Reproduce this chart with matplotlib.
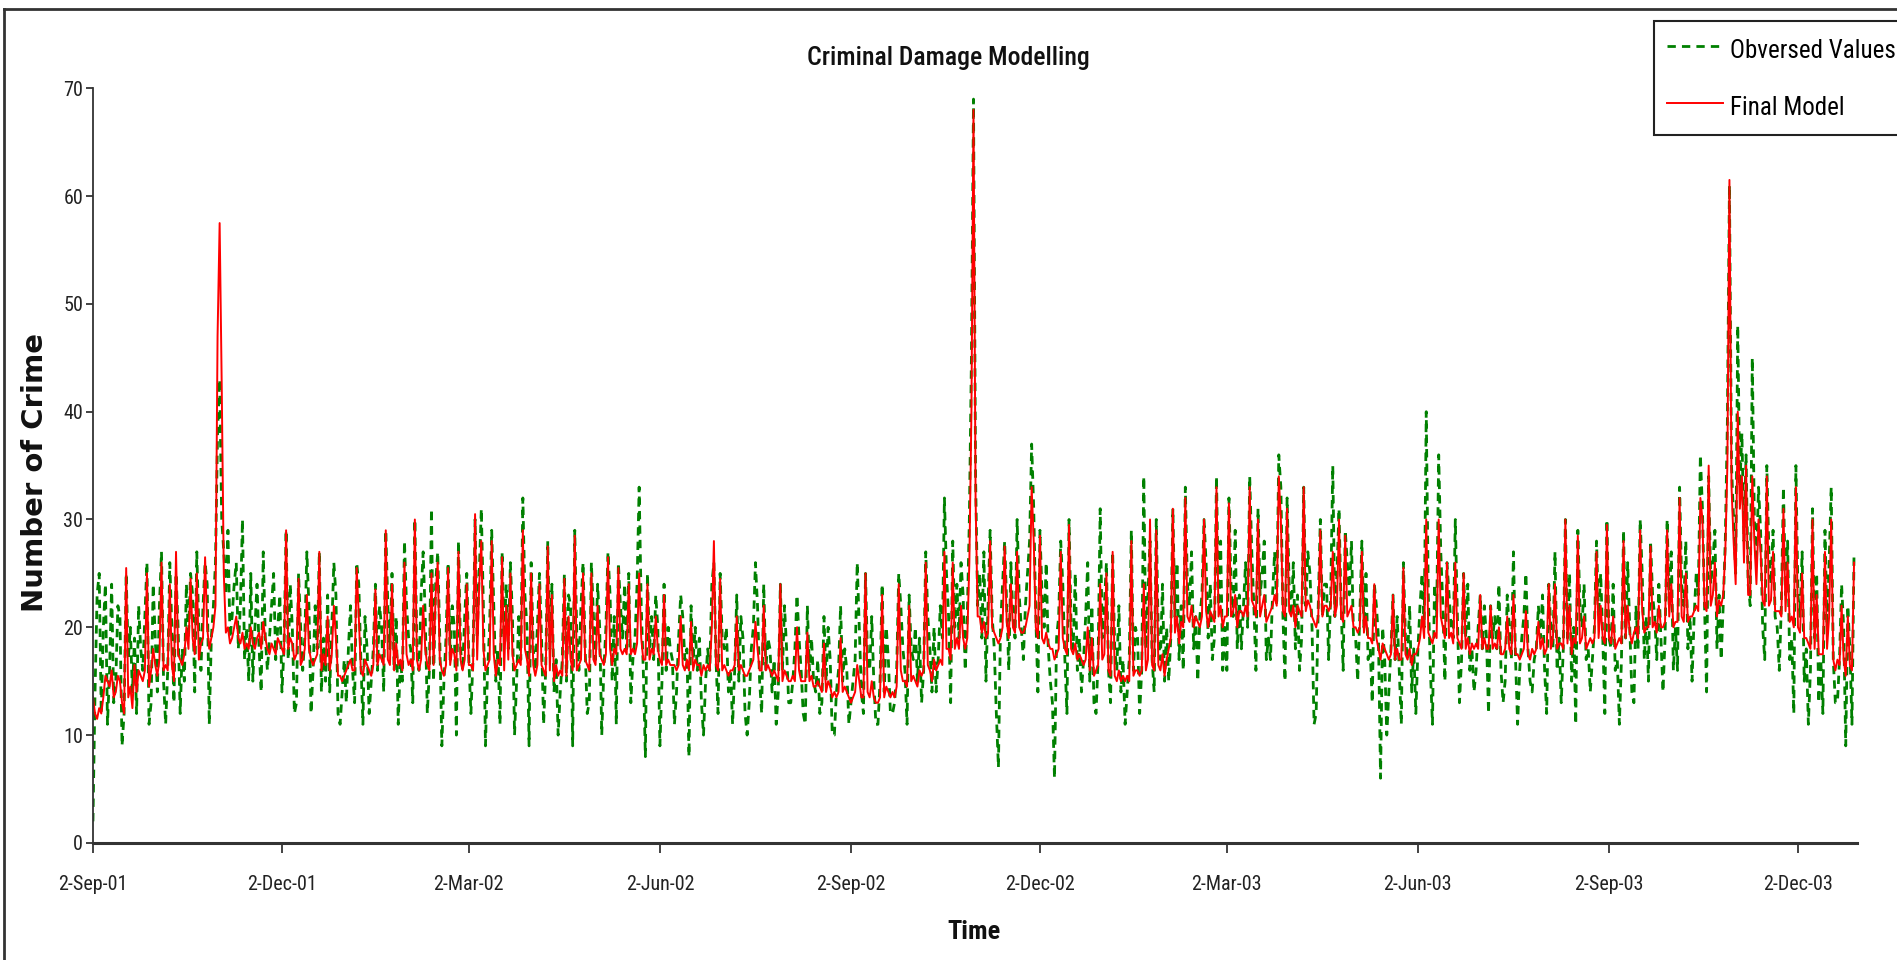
import pandas as pd
import matplotlib
matplotlib.use("Agg")
import matplotlib.pyplot as plt
from matplotlib.lines import Line2D
from matplotlib import font_manager

# Daily counts, one row per week, starting Sunday 2-Sep-01
observed_a = [
    2, 14, 23, 25, 12, 20, 24,
    11, 16, 24, 13, 15, 22, 21,
    9, 12, 25, 17, 20, 14, 19,
    12, 22, 18, 16, 21, 26, 11,
    13, 24, 19, 14, 22, 27, 15,
    11, 16, 26, 20, 13, 25, 20,
    12, 18, 15, 24, 19, 25, 23,
    14, 27, 20, 16, 22, 26, 24,
    11, 19, 22, 26, 38, 43, 30,
    27, 23, 29, 19, 21, 24, 26,
    18, 22, 30, 17, 20, 15, 25,
    15, 20, 24, 18, 14, 27, 19,
    16, 19, 22, 25, 17, 20, 23,
    14, 18, 29, 17, 24, 20, 12,
    13, 25, 20, 16, 19, 27, 22,
    12, 16, 22, 18, 27, 14, 19,
    15, 23, 14, 20, 26, 23, 12,
    11, 14, 17, 13, 18, 22, 16,
    13, 26, 24, 17, 11, 21, 18,
    12, 15, 18, 24, 16, 22, 20,
    14, 29, 22, 18, 25, 16, 21,
    11, 17, 15, 28, 22, 19, 18,
    13, 30, 18, 16, 23, 27, 21,
    12, 16, 31, 15, 24, 27, 19,
    9, 15, 19, 26, 17, 22, 20,
    10, 28, 18, 16, 21, 25, 17,
    12, 17, 30, 19, 25, 31, 22,
    9, 16, 20, 29, 22, 15, 18,
    11, 27, 19, 24, 18, 26, 21,
    10, 15, 21, 17, 32, 23, 20,
    9, 26, 18, 16, 20, 25, 19,
    11, 16, 28, 18, 24, 14, 17,
    10, 14, 17, 25, 15, 23, 22,
    9, 29, 19, 16, 22, 26, 18,
    12, 13, 26, 21, 17, 24, 20,
    10, 16, 20, 27, 23, 15, 21,
    11, 26, 22, 19, 24, 18, 25,
    13, 17, 19, 24, 33, 22, 16,
    8, 25, 18, 21, 17, 23, 20,
    9, 15, 24, 16, 20, 18, 17,
    11, 14, 19, 23, 21, 17, 18,
]
observed_b = [
    8, 22, 17, 20, 16, 19, 13,
    10, 15, 18, 16, 24, 26, 17,
    12, 25, 19, 18, 20, 14, 16,
    11, 16, 23, 15, 21, 19, 12,
    10, 13, 18, 20, 26, 22, 15,
    12, 24, 16, 19, 18, 14, 17,
    11, 14, 24, 16, 22, 18, 13,
    13, 15, 18, 23, 19, 16, 12,
    11, 22, 16, 19, 15, 14, 17,
    12, 13, 21, 15, 20, 17, 10,
    10, 14, 16, 22, 15, 18, 16,
    11, 13, 15, 17, 26, 20, 14,
    12, 25, 17, 16, 21, 15, 11,
    11, 15, 24, 14, 20, 17, 12,
    12, 13, 16, 25, 22, 18, 16,
    11, 23, 18, 17, 20, 15, 19,
    13, 16, 27, 21, 18, 14, 20,
    14, 17, 22, 19, 32, 25, 21,
    13, 28, 20, 24, 19, 26, 23,
    16, 21, 30, 45, 69, 34, 22,
    25, 19, 27, 15, 22, 29, 21,
    18, 12, 7, 20, 24, 28, 22,
    16, 26, 21, 19, 30, 23, 20,
    17, 22, 25, 28, 37, 31, 21,
    14, 29, 23, 20, 26, 18, 15,
    13, 6, 19, 21, 28, 24, 17,
    12, 30, 20, 18, 25, 16, 19,
    14, 17, 21, 26, 15, 22, 13,
    12, 17, 31, 19, 22, 26, 16,
    13, 27, 18, 16, 22, 14, 17,
    11, 14, 17, 29, 16, 20, 19,
    12, 16, 34, 18, 23, 28, 17,
    14, 30, 19, 17, 24, 15, 20,
    15, 19, 31, 21, 26, 17, 22,
    16, 33, 24, 22, 27, 18, 21,
    15, 21, 23, 30, 26, 19, 24,
    17, 19, 34, 22, 28, 16, 20,
    16, 32, 24, 21, 29, 18, 23,
    18, 22, 26, 20, 34, 27, 22,
    16, 31, 23, 25, 28, 17, 19,
]
observed_c = [
    17, 23, 27, 22, 36, 33, 21,
    15, 32, 24, 21, 26, 18, 23,
    16, 19, 33, 22, 27, 25, 20,
    11, 12, 22, 30, 21, 24, 24,
    17, 23, 35, 21, 25, 31, 22,
    16, 29, 26, 23, 28, 19, 19,
    15, 21, 28, 20, 25, 17, 18,
    13, 24, 22, 19, 6, 20, 17,
    10, 14, 18, 23, 17, 21, 16,
    11, 26, 19, 17, 22, 14, 18,
    12, 18, 22, 25, 20, 40, 23,
    16, 11, 24, 21, 36, 27, 22,
    15, 26, 23, 20, 19, 30, 21,
    13, 17, 25, 19, 24, 16, 18,
    14, 16, 20, 23, 18, 22, 19,
    12, 22, 19, 21, 18, 24, 16,
    13, 15, 23, 20, 17, 27, 17,
    11, 16, 19, 21, 25, 18, 15,
    14, 17, 18, 22, 19, 23, 16,
    12, 24, 20, 18, 27, 16, 19,
    13, 18, 30, 19, 25, 15, 20,
    11, 29, 22, 20, 24, 17, 18,
    14, 17, 20, 28, 21, 25, 19,
    12, 30, 19, 18, 24, 16, 17,
    11, 17, 29, 19, 26, 20, 14,
    13, 22, 18, 30, 25, 17, 21,
    15, 28, 23, 21, 17, 24, 19,
    14, 19, 30, 22, 27, 16, 20,
    16, 33, 24, 22, 28, 18, 21,
    15, 21, 25, 23, 36, 31, 22,
    14, 34, 24, 26, 29, 18, 23,
    17, 22, 28, 39, 61, 35, 30,
    25, 48, 33, 38, 28, 36, 24,
    22, 45, 30, 26, 33, 29, 20,
    17, 35, 27, 24, 29, 21, 20,
    16, 22, 33, 23, 28, 17, 19,
    12, 35, 23, 21, 27, 15, 18,
    11, 16, 31, 19, 25, 13, 17,
    12, 29, 20, 26, 33, 17, 13,
    13, 17, 24, 20, 9, 22, 18,
    11, 27,
]

model_a = [
    13.5, 12.0, 11.5, 12.5, 12.0, 13.5, 15.5,
    15.0, 14.5, 16.0, 13.5, 14.0, 15.5, 15.0,
    13.0, 12.0, 25.5, 13.5, 14.5, 12.5, 16.5,
    14.0, 16.0, 15.5, 15.0, 16.0, 25.0, 14.5,
    16.0, 18.0, 16.5, 15.5, 17.0, 26.0, 16.0,
    16.5, 16.0, 24.0, 16.5, 15.0, 27.0, 17.5,
    17.0, 16.5, 17.5, 20.0, 18.0, 24.5, 19.0,
    17.5, 25.0, 17.0, 18.5, 19.0, 26.5, 20.0,
    18.0, 19.0, 20.0, 22.0, 47.0, 57.5, 42.5,
    25.0, 19.5, 20.0, 18.5, 19.0, 20.0, 21.0,
    19.0, 18.5, 19.5, 18.0, 18.5, 18.0, 20.0,
    18.5, 18.0, 19.0, 19.5, 18.0, 20.5, 19.0,
    18.0, 17.5, 18.5, 18.0, 17.5, 19.0, 18.5,
    18.0, 17.5, 29.0, 18.0, 19.0, 18.5, 17.0,
    17.5, 24.5, 16.5, 17.0, 18.0, 23.0, 18.0,
    17.0, 16.5, 17.0, 17.5, 27.0, 16.0, 17.5,
    16.5, 21.0, 16.0, 17.5, 22.0, 19.0, 15.5,
    15.5, 15.0, 15.5, 16.0, 16.5, 17.0, 16.0,
    16.0, 25.5, 21.0, 16.0, 15.5, 17.0, 16.5,
    16.0, 15.5, 16.5, 23.5, 16.5, 17.5, 17.0,
    16.5, 29.0, 17.0, 16.5, 24.0, 16.0, 18.5,
    16.5, 17.0, 16.0, 26.0, 17.5, 16.5, 17.0,
    16.0, 30.0, 17.0, 16.0, 17.0, 22.0, 18.0,
    16.5, 16.0, 25.0, 16.5, 23.0, 26.0, 17.0,
    16.0, 15.5, 16.5, 25.5, 16.5, 18.0, 17.5,
    16.0, 27.0, 17.0, 16.0, 17.0, 24.0, 16.5,
    16.5, 16.0, 30.5, 17.0, 24.0, 28.0, 18.0,
    16.0, 16.5, 17.0, 28.0, 17.5, 15.5, 17.0,
    16.5, 26.5, 16.0, 22.0, 17.0, 25.0, 17.5,
    16.0, 16.5, 17.0, 16.5, 29.0, 18.0, 17.0,
    15.5, 25.0, 16.5, 15.5, 16.5, 24.0, 16.5,
    16.0, 15.5, 27.5, 16.0, 23.0, 15.0, 16.5,
    15.5, 16.0, 15.5, 24.5, 15.5, 21.0, 17.0,
    16.0, 28.5, 16.0, 16.5, 17.0, 25.0, 17.0,
    16.5, 16.0, 25.0, 17.0, 16.5, 22.0, 17.5,
    17.0, 16.5, 17.5, 26.5, 18.0, 16.5, 18.0,
    17.5, 25.5, 18.0, 17.5, 18.0, 17.5, 24.0,
    17.5, 18.0, 17.5, 18.5, 25.0, 19.0, 17.0,
    17.0, 24.0, 17.0, 18.0, 17.5, 21.0, 18.0,
    17.0, 16.5, 23.0, 16.5, 17.0, 16.5, 16.5,
    16.5, 16.0, 16.5, 21.0, 16.5, 16.0, 17.0,
]
model_b = [
    16.0, 20.5, 16.0, 17.0, 16.5, 16.5, 15.5,
    16.5, 16.0, 16.5, 16.0, 20.0, 28.0, 16.5,
    16.0, 24.5, 16.0, 16.5, 16.0, 15.5, 16.0,
    16.0, 16.5, 21.0, 16.0, 16.5, 16.0, 15.5,
    15.5, 16.0, 16.5, 17.0, 20.5, 18.0, 16.0,
    16.0, 22.0, 16.0, 16.5, 16.0, 15.5, 16.0,
    15.5, 15.0, 24.0, 15.0, 16.0, 15.5, 15.0,
    15.0, 15.5, 15.0, 20.0, 16.0, 15.0, 15.0,
    15.0, 19.5, 15.0, 15.5, 14.5, 14.5, 15.0,
    14.5, 14.0, 18.5, 14.0, 15.0, 14.5, 13.5,
    14.0, 13.5, 14.0, 19.0, 14.0, 14.5, 14.0,
    13.5, 13.0, 13.5, 14.0, 16.5, 15.0, 13.5,
    13.5, 25.0, 14.0, 13.5, 15.0, 13.5, 13.0,
    13.0, 13.5, 23.0, 13.5, 14.5, 14.0, 13.5,
    14.0, 13.5, 14.5, 24.0, 16.0, 15.0, 15.0,
    14.5, 22.0, 15.0, 15.5, 15.0, 14.5, 16.0,
    15.5, 16.0, 26.0, 16.5, 16.0, 15.0, 17.0,
    16.0, 16.5, 17.0, 16.5, 27.0, 18.0, 18.0,
    17.0, 26.0, 18.0, 19.0, 18.0, 22.0, 19.0,
    18.0, 19.0, 26.0, 40.0, 68.0, 32.0, 21.0,
    21.0, 19.5, 20.5, 19.0, 19.5, 28.0, 20.0,
    19.5, 19.0, 18.5, 19.0, 20.0, 27.5, 20.5,
    19.0, 24.0, 20.0, 19.5, 27.0, 20.0, 19.5,
    19.5, 20.0, 21.0, 22.0, 33.0, 28.0, 20.0,
    19.0, 28.5, 19.0, 18.5, 19.5, 18.5, 18.0,
    18.0, 17.0, 17.5, 18.0, 27.0, 19.0, 18.0,
    17.5, 29.5, 18.0, 17.5, 18.5, 17.0, 17.5,
    17.0, 16.5, 17.0, 20.0, 16.0, 19.0, 15.5,
    16.0, 16.5, 24.0, 17.0, 17.5, 25.0, 16.0,
    15.5, 27.0, 15.5, 15.0, 16.0, 15.0, 15.5,
    15.0, 15.5, 15.0, 28.0, 15.5, 16.0, 16.0,
    15.5, 16.0, 24.0, 16.0, 17.0, 30.0, 16.5,
    16.0, 29.0, 16.5, 16.0, 17.5, 15.5, 17.0,
    18.0, 19.0, 31.0, 19.5, 21.0, 18.5, 20.5,
    20.0, 32.0, 21.0, 20.5, 22.0, 20.0, 21.0,
    20.5, 20.0, 21.0, 30.0, 21.5, 20.0, 21.5,
    21.0, 20.5, 33.0, 21.0, 22.0, 20.0, 21.0,
    21.0, 31.5, 21.0, 21.5, 23.0, 20.0, 21.5,
    21.5, 21.0, 22.0, 21.0, 33.0, 22.5, 22.0,
    21.0, 30.0, 21.0, 22.0, 23.0, 20.5, 21.0,
]
model_c = [
    21.5, 22.0, 23.0, 22.0, 34.0, 30.0, 21.5,
    21.0, 31.0, 21.5, 21.0, 22.0, 20.0, 22.0,
    21.5, 21.0, 33.0, 21.5, 22.5, 22.0, 21.0,
    20.5, 20.0, 21.0, 29.0, 21.0, 22.0, 22.0,
    21.5, 22.0, 27.0, 21.0, 22.0, 30.0, 21.0,
    20.5, 28.5, 21.0, 21.5, 22.0, 20.0, 20.0,
    19.5, 20.0, 27.0, 19.5, 21.0, 19.0, 19.0,
    18.5, 24.0, 19.0, 18.0, 17.0, 18.5, 18.0,
    17.5, 17.0, 17.5, 23.0, 17.0, 18.0, 17.0,
    17.0, 25.5, 17.5, 17.0, 18.0, 16.5, 17.5,
    17.5, 18.0, 19.0, 21.0, 19.0, 30.0, 19.5,
    19.0, 18.5, 19.5, 19.0, 30.0, 21.0, 20.0,
    19.0, 26.0, 19.0, 19.5, 18.5, 26.0, 19.0,
    18.5, 18.0, 25.0, 18.0, 19.0, 17.5, 18.5,
    18.0, 18.5, 18.0, 23.0, 18.0, 19.0, 18.0,
    18.0, 22.0, 18.0, 18.5, 18.0, 20.0, 17.5,
    17.5, 18.0, 21.0, 18.0, 17.5, 23.0, 17.5,
    17.5, 17.0, 17.5, 18.0, 21.5, 17.5, 17.0,
    18.0, 17.5, 18.0, 20.5, 18.0, 19.0, 17.5,
    18.0, 24.0, 18.0, 19.0, 24.0, 18.0, 18.5,
    18.5, 18.0, 30.0, 18.5, 22.0, 17.5, 19.0,
    18.5, 28.5, 18.5, 19.0, 21.0, 18.0, 18.5,
    19.0, 18.5, 19.0, 27.0, 19.0, 22.0, 19.0,
    18.5, 29.5, 19.0, 18.5, 21.0, 18.0, 18.5,
    19.0, 18.5, 28.0, 19.0, 22.0, 19.5, 18.5,
    19.5, 20.0, 19.0, 29.0, 21.5, 19.5, 20.0,
    20.0, 27.5, 20.0, 20.5, 19.5, 22.0, 20.0,
    20.0, 20.5, 29.0, 21.0, 24.0, 20.0, 20.5,
    20.5, 32.0, 21.0, 20.5, 25.0, 20.5, 21.0,
    21.0, 21.5, 22.0, 21.5, 32.0, 30.0, 22.0,
    21.5, 35.0, 22.0, 23.0, 26.0, 21.0, 22.5,
    22.0, 23.0, 27.0, 35.0, 61.5, 33.0, 28.0,
    24.0, 40.0, 31.0, 34.0, 26.0, 35.0, 23.0,
    23.0, 34.0, 28.0, 24.0, 30.0, 27.0, 22.5,
    22.0, 34.0, 22.0, 22.5, 27.0, 21.5, 21.5,
    21.5, 21.0, 31.0, 21.5, 26.0, 20.5, 21.0,
    20.0, 33.0, 20.0, 19.5, 25.0, 19.0, 19.0,
    18.5, 18.0, 30.0, 18.0, 23.0, 17.5, 17.5,
    17.5, 27.0, 18.0, 21.0, 30.0, 17.0, 16.0,
    17.0, 16.5, 22.0, 17.0, 15.5, 21.0, 16.5,
    16.0, 26.0,
]

tick_dates = ["2001-09-02", "2001-12-02", "2002-03-02", "2002-06-02", "2002-09-02",
              "2002-12-02", "2003-03-02", "2003-06-02", "2003-09-02", "2003-12-02"]
tick_labels = ["2-Sep-01", "2-Dec-01", "2-Mar-02", "2-Jun-02", "2-Sep-02",
               "2-Dec-02", "2-Mar-03", "2-Jun-03", "2-Sep-03", "2-Dec-03"]

observed = observed_a + observed_b + observed_c
model = model_a + model_b + model_c
dates = pd.date_range("2001-09-02", periods=len(observed), freq="D")

# the original uses Arial Narrow; take a narrow face if one is installed
installed = {f.name for f in font_manager.fontManager.ttflist}
narrow_name = next((n for n in ["Liberation Sans Narrow", "Arial Narrow", "Roboto Condensed",
                                "Open Sans Condensed", "Noto Sans Display"] if n in installed), None)
if narrow_name:
    narrow, k = [narrow_name, "DejaVu Sans"], 1.0
else:
    narrow, k = ["Liberation Sans", "DejaVu Sans"], 0.84

fig = plt.figure(figsize=(18.97, 9.6), dpi=100)
ax = fig.add_axes([0.049, 0.122, 0.930, 0.786])

ax.plot(dates, observed, color="#008000", lw=2.0, ls=(0, (3.0, 2.2)), label="Obversed Values")
ax.plot(dates, model, color="#FF0000", lw=1.4, label="Final Model")

ax.set_xlim(pd.Timestamp("2001-09-02"), pd.Timestamp("2001-09-02") + pd.Timedelta(days=849.5))
ax.set_ylim(0, 70)
ax.set_yticks(range(0, 71, 10))
ax.set_xticks(pd.to_datetime(tick_dates))
ax.set_xticklabels(tick_labels)

for side in ["top", "right"]:
    ax.spines[side].set_visible(False)
ax.spines["left"].set_color("#333333")
ax.spines["left"].set_linewidth(1.3)
ax.spines["bottom"].set_color("#333333")
ax.spines["bottom"].set_linewidth(2.2)

ax.tick_params(axis="y", direction="out", length=5, width=1.2, pad=2, colors="#222222")
ax.tick_params(axis="x", direction="out", length=7, width=1.2, pad=16, colors="#222222")
for lab in ax.get_xticklabels() + ax.get_yticklabels():
    lab.set_family(narrow)
    lab.set_fontsize(14.5 * k)

# titles and axis labels placed on the figure
fig.text(0.5, 1 - 58 / 960, "Criminal Damage Modelling", ha="center", va="center",
         fontsize=18.5 * k, family=narrow, weight="medium", color="#111111")
fig.text(35 / 1897, 1 - 473 / 960, "Number of Crime", ha="center", va="center",
         rotation=90, fontsize=21, family="DejaVu Sans", weight="bold", color="#111111")
fig.text(974 / 1897, 1 - 932 / 960, "Time", ha="center", va="center",
         fontsize=19 * k, family=narrow, weight="bold", color="#111111")

leg = fig.legend(loc="upper left", bbox_to_anchor=(1654 / 1897, 1 - 21 / 960),
                 bbox_transform=fig.transFigure, prop={"family": narrow, "size": 18 * k},
                 fancybox=False, framealpha=1, edgecolor="#222222", borderpad=0.5,
                 handlelength=2.24, handleheight=1.6, handletextpad=0.32,
                 labelspacing=1.0, borderaxespad=0)
leg.get_frame().set_linewidth(1.5)

# outer chart border (top and left edges visible in the original)
fig.add_artist(Line2D([0.002, 0.002], [0, 0.991], color="#333333", lw=2))
fig.add_artist(Line2D([0.002, 1], [0.991, 0.991], color="#333333", lw=2))

fig.savefig("out.png", dpi=100)
plt.close(fig)
